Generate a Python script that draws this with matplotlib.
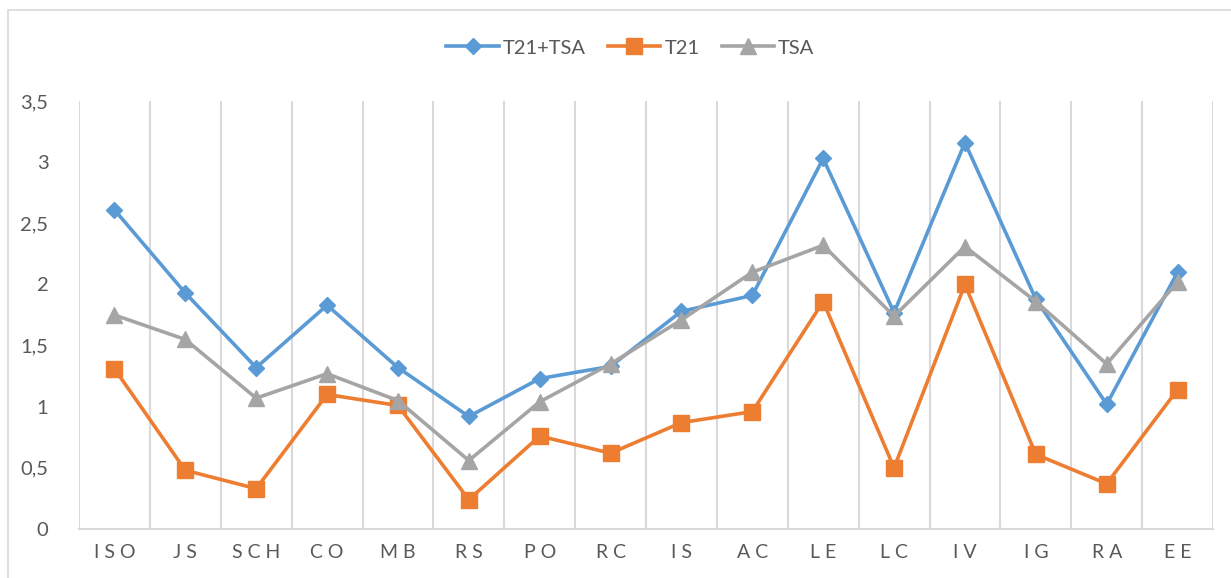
import matplotlib
matplotlib.use("Agg")
import matplotlib.pyplot as plt
from matplotlib.patches import Rectangle

categories = ["ISO", "JS", "SCH", "CO", "MB", "RS", "PO", "RC", "IS", "AC", "LE", "LC", "IV", "IG", "RA", "EE"]
t21_tsa = [2.61, 1.93, 1.32, 1.83, 1.32, 0.92, 1.23, 1.33, 1.78, 1.91, 3.03, 1.77, 3.16, 1.88, 1.02, 2.10]
t21 = [1.31, 0.48, 0.33, 1.10, 1.01, 0.24, 0.76, 0.62, 0.87, 0.96, 1.86, 0.50, 2.00, 0.61, 0.37, 1.14]
tsa = [1.75, 1.55, 1.07, 1.27, 1.05, 0.56, 1.04, 1.35, 1.71, 2.10, 2.32, 1.74, 2.31, 1.86, 1.35, 2.02]
yticks = [0, 0.5, 1, 1.5, 2, 2.5, 3, 3.5]
ytick_labels = ["0", "0,5", "1", "1,5", "2", "2,5", "3", "3,5"]

plt.rcParams['font.family'] = ['Lato', 'DejaVu Sans']

W, H = 1231, 578
fig = plt.figure(figsize=(W / 100, H / 100), dpi=100)
ax = fig.add_axes([79 / W, (H - 529) / H, (1213 - 79) / W, (529 - 101) / H])

# outer chart border
fig.patches.append(Rectangle((8 / W, -0.01), 1.0, (H - 10) / H + 0.01,
                             transform=fig.transFigure, fill=False,
                             edgecolor="#d9d9d9", linewidth=1.2))

x = list(range(len(categories)))
grid_c = "#d9d9d9"
for b in range(len(categories) + 1):
    ax.axvline(b - 0.5, color=grid_c, linewidth=1.5, zorder=0)

ax.plot(x, t21_tsa, color="#5b9bd5", linewidth=2.6, marker="D", markersize=8.5,
        label="T21+TSA", zorder=3)
ax.plot(x, t21, color="#ed7d31", linewidth=2.6, marker="s", markersize=12,
        label="T21", zorder=3)
ax.plot(x, tsa, color="#a5a5a5", linewidth=2.6, marker="^", markersize=11,
        label="TSA", zorder=3)

ax.set_xlim(-0.5, len(categories) - 0.5)
ax.set_ylim(0, 3.5)
ax.set_yticks(yticks)
ax.set_yticklabels(ytick_labels, fontsize=14.5, color="#595959")
ax.set_xticks(x)
ax.set_xticklabels([" ".join(c) for c in categories], fontsize=14, color="#595959")
ax.tick_params(axis="both", length=0)
ax.tick_params(axis="y", pad=22)
ax.tick_params(axis="x", pad=11)
for s in ["top", "right", "left"]:
    ax.spines[s].set_visible(False)
ax.spines["bottom"].set_color(grid_c)
ax.spines["bottom"].set_linewidth(1.5)

leg = fig.legend(loc="center", bbox_to_anchor=(0.5 + 0.012, (H - 48) / H), ncol=3,
                 frameon=False, fontsize=14.5, handlelength=2.6, columnspacing=1.1,
                 handletextpad=0.2)
for t in leg.get_texts():
    t.set_color("#595959")

fig.savefig("out.png", dpi=100)
